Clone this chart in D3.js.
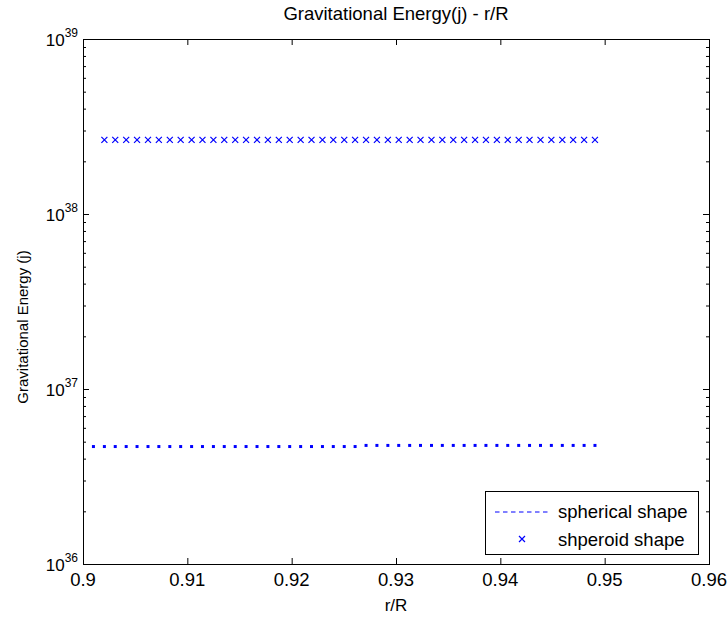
<!DOCTYPE html>
<html>
<head>
<meta charset="utf-8">
<script src="https://cdn.jsdelivr.net/npm/d3@7"></script>
<style>
  body { margin: 0; background: #fff; }
  text { font-family: "Liberation Sans", Arial, sans-serif; fill: #000; }
</style>
</head>
<body>
<svg id="chart" width="727" height="623"></svg>
<script>
// Axis ticks
const xTicks = [0.9, 0.91, 0.92, 0.93, 0.94, 0.95, 0.96];
const yDecades = [36, 37, 38, 39];

// Spheroid shape samples (r/R, energy in J)
const spheroidX = [0.90205, 0.90309, 0.90414, 0.90518, 0.90623, 0.90727, 0.90832, 0.90936,
  0.91041, 0.91145, 0.91250, 0.91354, 0.91459, 0.91563, 0.91668, 0.91772, 0.91877, 0.91981,
  0.92086, 0.92190, 0.92295, 0.92399, 0.92504, 0.92608, 0.92713, 0.92817, 0.92922, 0.93026,
  0.93131, 0.93235, 0.93340, 0.93444, 0.93549, 0.93653, 0.93758, 0.93862, 0.93967, 0.94071,
  0.94176, 0.94280, 0.94385, 0.94489, 0.94594, 0.94698, 0.94803, 0.94907];
const spheroidE = [2.65e38, 2.65e38, 2.65e38, 2.65e38, 2.65e38, 2.65e38, 2.65e38, 2.65e38,
  2.65e38, 2.65e38, 2.65e38, 2.65e38, 2.65e38, 2.65e38, 2.65e38, 2.65e38, 2.65e38, 2.65e38,
  2.65e38, 2.65e38, 2.65e38, 2.65e38, 2.65e38, 2.65e38, 2.65e38, 2.65e38, 2.65e38, 2.65e38,
  2.65e38, 2.65e38, 2.65e38, 2.65e38, 2.65e38, 2.65e38, 2.65e38, 2.65e38, 2.65e38, 2.65e38,
  2.65e38, 2.65e38, 2.65e38, 2.65e38, 2.65e38, 2.65e38, 2.65e38, 2.65e38];

// Spherical shape samples (r/R, energy in J)
const sphericalX = [0.90100, 0.90205, 0.90309, 0.90414, 0.90518, 0.90623, 0.90727, 0.90832,
  0.90936, 0.91041, 0.91145, 0.91250, 0.91354, 0.91459, 0.91563, 0.91668, 0.91772, 0.91877,
  0.91981, 0.92086, 0.92190, 0.92295, 0.92399, 0.92504, 0.92608, 0.92713, 0.92817, 0.92922,
  0.93026, 0.93131, 0.93235, 0.93340, 0.93444, 0.93549, 0.93653, 0.93758, 0.93862, 0.93967,
  0.94071, 0.94176, 0.94280, 0.94385, 0.94489, 0.94594, 0.94698, 0.94803, 0.94907];
const sphericalE = [4.69e36, 4.69e36, 4.69e36, 4.69e36, 4.69e36, 4.69e36, 4.69e36, 4.69e36,
  4.69e36, 4.69e36, 4.69e36, 4.69e36, 4.69e36, 4.69e36, 4.69e36, 4.69e36, 4.69e36, 4.69e36,
  4.69e36, 4.69e36, 4.69e36, 4.69e36, 4.69e36, 4.69e36, 4.69e36, 4.76e36, 4.76e36, 4.76e36,
  4.76e36, 4.76e36, 4.76e36, 4.76e36, 4.76e36, 4.76e36, 4.76e36, 4.76e36, 4.76e36, 4.76e36,
  4.76e36, 4.76e36, 4.76e36, 4.76e36, 4.76e36, 4.76e36, 4.76e36, 4.76e36, 4.76e36];

const legendLabels = ["spherical shape", "shperoid shape"];
const blue = "#0000ff";

const svg = d3.select("#chart");
const plot = { left: 83, top: 39, right: 709, bottom: 564 };

const x = d3.scaleLinear().domain([0.9, 0.96]).range([plot.left, plot.right]);
const y = d3.scaleLog().domain([1e36, 1e39]).range([plot.bottom, plot.top]);

// Tick marks drawn inward on all four sides (box style)
const majorLen = 6, minorLen = 3;
const majorY = yDecades.map(d => Math.pow(10, d));
const minorY = [];
yDecades.slice(0, -1).forEach(d => { for (let m = 2; m <= 9; m++) minorY.push(m * Math.pow(10, d)); });

function styleAxis(g) {
  g.select(".domain").remove();
  g.selectAll("line").attr("stroke", "#000").attr("stroke-width", 1);
}
svg.append("g").attr("transform", `translate(0,${plot.bottom})`)
  .call(d3.axisBottom(x).tickValues(xTicks).tickSize(-majorLen).tickFormat("")).call(styleAxis);
svg.append("g").attr("transform", `translate(0,${plot.top})`)
  .call(d3.axisTop(x).tickValues(xTicks).tickSize(-majorLen).tickFormat("")).call(styleAxis);
svg.append("g").attr("transform", `translate(${plot.left},0)`)
  .call(d3.axisLeft(y).tickValues(majorY).tickSize(-majorLen).tickFormat("")).call(styleAxis);
svg.append("g").attr("transform", `translate(${plot.left},0)`)
  .call(d3.axisLeft(y).tickValues(minorY).tickSize(-minorLen).tickFormat("")).call(styleAxis);
svg.append("g").attr("transform", `translate(${plot.right},0)`)
  .call(d3.axisRight(y).tickValues(majorY).tickSize(-majorLen).tickFormat("")).call(styleAxis);
svg.append("g").attr("transform", `translate(${plot.right},0)`)
  .call(d3.axisRight(y).tickValues(minorY).tickSize(-minorLen).tickFormat("")).call(styleAxis);

// Frame
svg.append("rect")
  .attr("x", plot.left + 0.5).attr("y", plot.top + 0.5)
  .attr("width", plot.right - plot.left).attr("height", plot.bottom - plot.top)
  .attr("fill", "none").attr("stroke", "#000").attr("stroke-width", 1);

// X tick labels
svg.append("g").selectAll("text").data(xTicks).join("text")
  .attr("x", d => x(d)).attr("y", plot.bottom + 22)
  .attr("text-anchor", "middle").attr("font-size", 18.5)
  .text(d => d3.format("")(d));

// Y tick labels as powers of ten
const yl = svg.append("g").selectAll("text").data(yDecades).join("text")
  .attr("x", plot.left - 5).attr("y", d => y(Math.pow(10, d)) + 7)
  .attr("text-anchor", "end").attr("font-size", 17);
yl.append("tspan").text("10");
yl.append("tspan").attr("dy", -9).attr("font-size", 12).text(d => d);

// Title and axis labels
svg.append("text").attr("x", (plot.left + plot.right) / 2).attr("y", 20)
  .attr("text-anchor", "middle").attr("font-size", 18.5)
  .text("Gravitational Energy(j) - r/R");
svg.append("text").attr("x", (plot.left + plot.right) / 2).attr("y", 611)
  .attr("text-anchor", "middle").attr("font-size", 17).text("r/R");
svg.append("text")
  .attr("transform", "translate(28,327) rotate(-90)")
  .attr("text-anchor", "middle").attr("font-size", 15)
  .text("Gravitational Energy (j)");

// Spherical shape: short dash at each sample
const dashHalf = 1.5;
svg.append("g").selectAll("line").data(sphericalX.map((v, i) => [v, sphericalE[i]])).join("line")
  .attr("x1", d => x(d[0]) - dashHalf).attr("x2", d => x(d[0]) + dashHalf)
  .attr("y1", d => y(d[1])).attr("y2", d => y(d[1]))
  .attr("stroke", blue).attr("stroke-width", 3);

// Spheroid shape: x markers
const mk = 3;
const spheroid = spheroidX.map((v, i) => [v, spheroidE[i]]);
svg.append("g").selectAll("path").data(spheroid).join("path")
  .attr("transform", d => `translate(${x(d[0])},${y(d[1])})`)
  .attr("d", `M${-mk},${-mk}L${mk},${mk}M${-mk},${mk}L${mk},${-mk}`)
  .attr("stroke", blue).attr("stroke-width", 1.2).attr("fill", "none");

// Legend
const lg = svg.append("g");
lg.append("rect").attr("x", 485.5).attr("y", 491.5).attr("width", 213).attr("height", 63)
  .attr("fill", "#fff").attr("stroke", "#000").attr("stroke-width", 1);
lg.append("line").attr("x1", 495).attr("x2", 550).attr("y1", 512).attr("y2", 512)
  .attr("stroke", blue).attr("stroke-width", 1).attr("stroke-dasharray", "4.5 3.5");
lg.append("path").attr("transform", "translate(522,539)")
  .attr("d", `M${-mk},${-mk}L${mk},${mk}M${-mk},${mk}L${mk},${-mk}`)
  .attr("stroke", blue).attr("stroke-width", 1.2);
lg.selectAll("text.lab").data(legendLabels).join("text").attr("class", "lab")
  .attr("x", 558).attr("y", (d, i) => 518 + i * 28).attr("font-size", 18.5)
  .text(d => d);
</script>
</body>
</html>
